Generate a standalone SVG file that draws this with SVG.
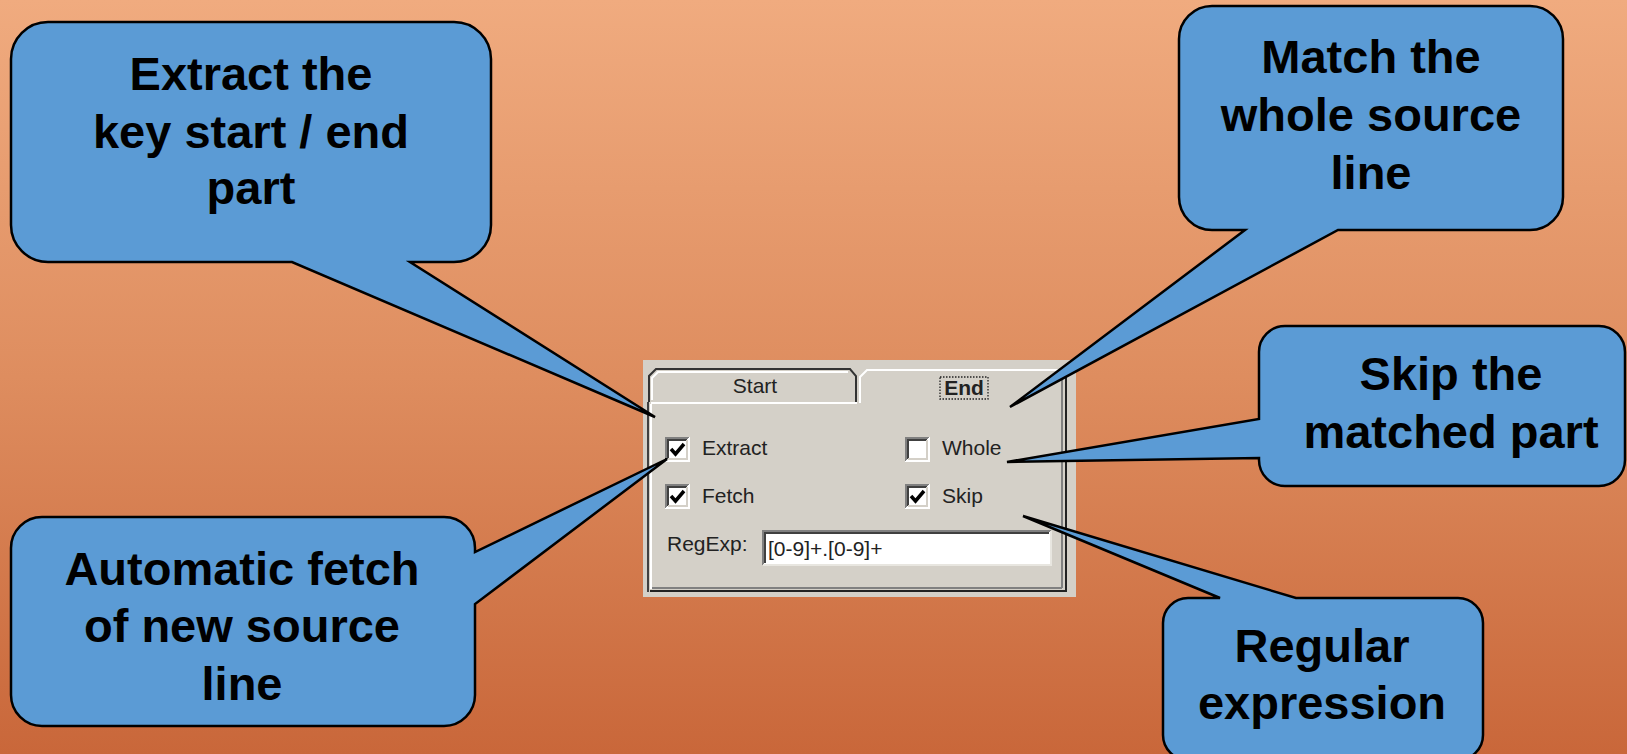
<svg xmlns="http://www.w3.org/2000/svg" xmlns:xlink="http://www.w3.org/1999/xlink" width="1627" height="754" viewBox="0 0 1627 754">
<defs>
<linearGradient id="bg" x1="0" y1="0" x2="0" y2="1">
<stop offset="0" stop-color="#F0AB7F"/>
<stop offset="0.5" stop-color="#DE8D5F"/>
<stop offset="1" stop-color="#C9673A"/>
</linearGradient>
<g id="cb">
<rect x="0" y="0" width="25" height="25" fill="#FFFFFF"/>
<path d="M1,24 V1 H24" fill="none" stroke="#808080" stroke-width="2"/>
<path d="M3,22 V3 H22" fill="none" stroke="#404040" stroke-width="2"/>
<path d="M1,24 H24 V1" fill="none" stroke="#FFFFFF" stroke-width="2"/>
<path d="M3,22 H22 V3" fill="none" stroke="#D4D0C8" stroke-width="2"/>
</g>
<path id="ck" d="M6,12 L10.5,17 L19,7" fill="none" stroke="#000" stroke-width="3.5"/>
</defs>
<style>
.co{fill:#5B9BD5;stroke:#000;stroke-width:2.5;stroke-linejoin:miter}
.t{font-family:"Liberation Sans",Arial,sans-serif;font-weight:bold;font-size:47px;text-anchor:middle;fill:#000}
.d{font-family:"Liberation Sans",Arial,sans-serif;font-size:21px;fill:#222}
.ln{fill:none;stroke-width:2}
</style>
<rect x="0" y="0" width="1627" height="754" fill="url(#bg)"/>

<g id="dialog">
<rect x="643" y="360" width="433" height="237" fill="#D4D0C8"/>
<!-- panel edges -->
<path class="ln" d="M648,402 V592" stroke="#404040"/>
<path class="ln" d="M651,404 V589" stroke="#FFFFFF"/>
<path class="ln" d="M651,403 H857" stroke="#FFFFFF"/>
<path class="ln" d="M650,591 H1066" stroke="#222"/>
<path class="ln" d="M652,588 H1062" stroke="#808080"/>
<path class="ln" d="M1062,372 V588" stroke="#808080"/>
<path class="ln" d="M1066,370 V592" stroke="#222"/>
<!-- Start tab -->
<path class="ln" d="M649,402 V376 L656,369 H850 L856,376 V402" stroke="#333"/>
<path class="ln" d="M652,400 V378 L658,372 H848" stroke="#FFFFFF" stroke-width="1.5"/>
<text class="d" x="755" y="393" text-anchor="middle">Start</text>
<!-- End tab -->
<path class="ln" d="M860,403 V377 L867,370 H1060" stroke="#FFFFFF" stroke-width="2.5"/>
<text class="d" x="964" y="395" text-anchor="middle" font-weight="bold">End</text>
<rect x="940" y="377" width="48" height="22" fill="none" stroke="#222" stroke-width="1.3" stroke-dasharray="1.5 1.5"/>
<!-- checkboxes -->
<use xlink:href="#cb" x="665" y="437"/>
<use xlink:href="#ck" x="665" y="437"/>
<text class="d" x="702" y="455">Extract</text>
<use xlink:href="#cb" x="665" y="484"/>
<use xlink:href="#ck" x="665" y="484"/>
<text class="d" x="702" y="503">Fetch</text>
<use xlink:href="#cb" x="905" y="437"/>
<text class="d" x="942" y="455">Whole</text>
<use xlink:href="#cb" x="905" y="484"/>
<use xlink:href="#ck" x="905" y="484"/>
<text class="d" x="942" y="503">Skip</text>
<text class="d" x="667" y="551">RegExp:</text>
<rect x="762" y="530" width="289" height="35" fill="#FFFFFF"/>
<path class="ln" d="M763,565 V531 H1051" stroke="#808080"/>
<path class="ln" d="M765,563 V533 H1049" stroke="#404040"/>
<path class="ln" d="M763,565 H1051 V531" stroke="#E8E6E0"/>
<text class="d" x="768" y="556">[0-9]+.[0-9]+</text>
</g>

<g id="connectors"></g>

<g id="callout-extract">
<path class="co" d="M48,22 H454 A37,37 0 0 1 491,59 V225 A37,37 0 0 1 454,262 H410 L655,417 L292,262 H48 A37,37 0 0 1 11,225 V59 A37,37 0 0 1 48,22 Z"/>
<text class="t" x="251" y="90">Extract the</text>
<text class="t" x="251" y="148">key start / end</text>
<text class="t" x="251" y="204">part</text>
</g>

<g id="callout-match">
<path class="co" d="M1212,6 H1530 A33,33 0 0 1 1563,39 V197 A33,33 0 0 1 1530,230 H1338 L1010,407 L1245,230 H1212 A33,33 0 0 1 1179,197 V39 A33,33 0 0 1 1212,6 Z"/>
<text class="t" x="1371" y="73">Match the</text>
<text class="t" x="1371" y="131">whole source</text>
<text class="t" x="1371" y="189">line</text>
</g>

<g id="callout-skip">
<path class="co" d="M1285,326 H1599 A26,26 0 0 1 1625,352 V460 A26,26 0 0 1 1599,486 H1285 A26,26 0 0 1 1259,460 V458 L1007,462 L1259,419 V352 A26,26 0 0 1 1285,326 Z"/>
<text class="t" x="1451" y="390">Skip the</text>
<text class="t" x="1451" y="448">matched part</text>
</g>

<g id="callout-fetch">
<path class="co" d="M42,517 H444 A31,31 0 0 1 475,548 V552 L667,459 L475,604 V695 A31,31 0 0 1 444,726 H42 A31,31 0 0 1 11,695 V548 A31,31 0 0 1 42,517 Z"/>
<text class="t" x="242" y="585">Automatic fetch</text>
<text class="t" x="242" y="642">of new source</text>
<text class="t" x="242" y="700">line</text>
</g>

<g id="callout-regexp">
<path class="co" d="M1188,598 H1220 L1023,516 L1296,598 H1458 A25,25 0 0 1 1483,623 V735 A25,25 0 0 1 1458,760 H1188 A25,25 0 0 1 1163,735 V623 A25,25 0 0 1 1188,598 Z"/>
<text class="t" x="1322" y="662">Regular</text>
<text class="t" x="1322" y="719">expression</text>
</g>
</svg>
